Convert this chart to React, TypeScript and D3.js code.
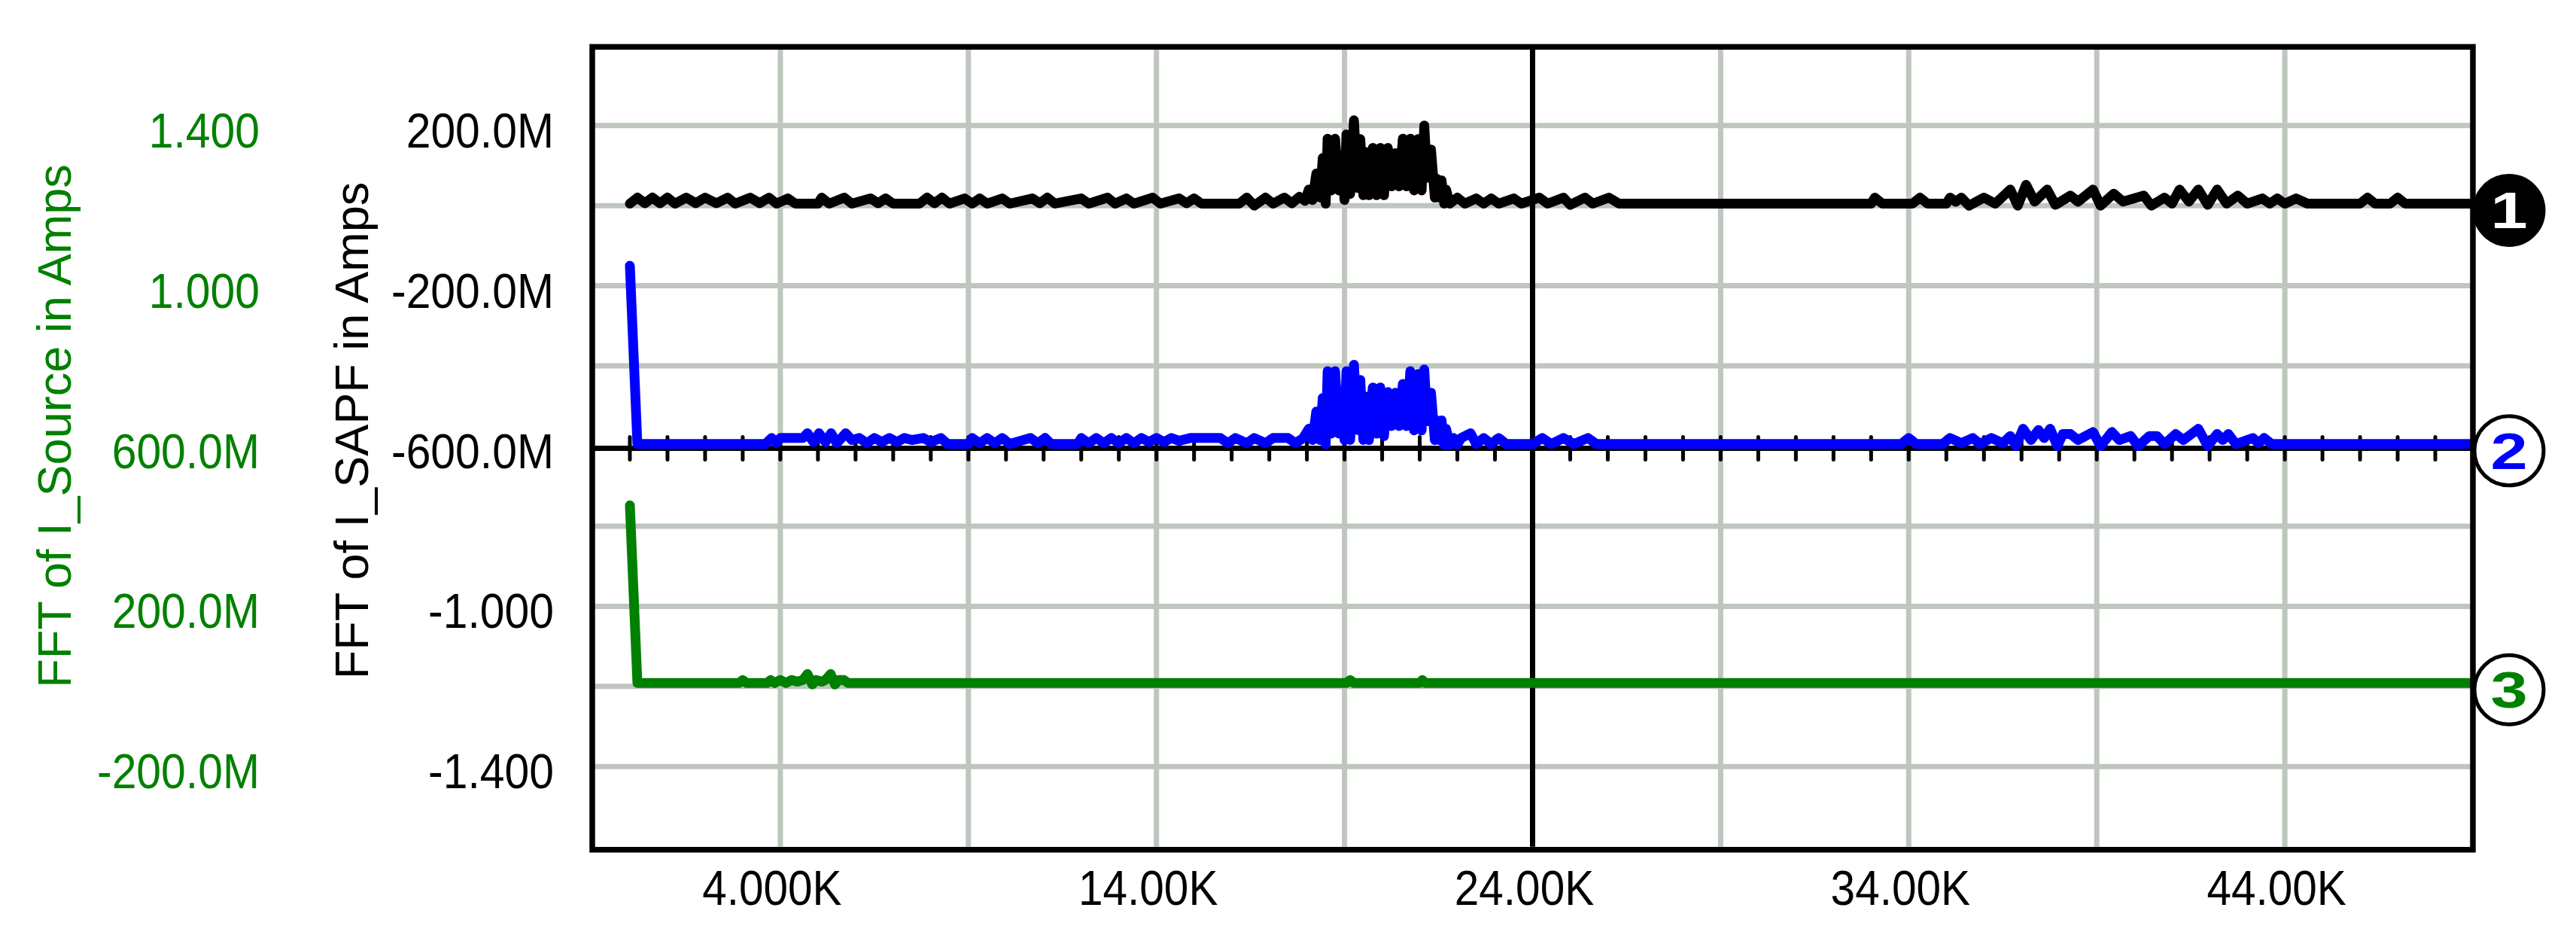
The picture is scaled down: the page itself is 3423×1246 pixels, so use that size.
import React from 'react';
import * as d3 from 'd3';

// frequency in kHz, magnitude in A
const sapfTrace: [number, number][] = [
  [0, 0.005], [0.2, 0.02], [0.4, 0.006], [0.6, 0.02], [0.8, 0.006], [1.0, 0.02], [1.2, 0.005], [1.5, 0.02], [1.75, 0.006],
  [2.0, 0.02], [2.3, 0.006], [2.6, 0.02], [2.8, 0.005], [3.2, 0.02], [3.45, 0.006], [3.7, 0.02], [3.9, 0.005], [4.2, 0.018],
  [4.4, 0.005], [5.0, 0.005], [5.1, 0.02], [5.3, 0.005], [5.7, 0.02], [5.9, 0.005], [6.4, 0.018], [6.6, 0.006], [6.8, 0.018],
  [7.0, 0.005], [7.7, 0.005], [7.9, 0.02], [8.1, 0.006], [8.3, 0.02], [8.5, 0.005], [8.9, 0.018], [9.1, 0.005], [9.3, 0.018],
  [9.5, 0.005], [9.9, 0.018], [10.1, 0.005], [10.7, 0.018], [10.9, 0.006], [11.1, 0.02], [11.3, 0.005], [12.0, 0.018],
  [12.2, 0.005], [12.7, 0.02], [12.9, 0.005], [13.2, 0.018], [13.4, 0.005], [13.9, 0.02], [14.1, 0.005], [14.6, 0.018],
  [14.8, 0.006], [15.0, 0.018], [15.2, 0.005], [16.2, 0.005], [16.4, 0.02], [16.6, 0.0], [16.9, 0.02], [17.1, 0.005],
  [17.4, 0.02], [17.6, 0.006], [17.8, 0.022], [17.95, 0.012],
  [18.05, 0.04], [18.15, 0.014], [18.25, 0.08], [18.35, 0.02], [18.42, 0.119], [18.5, 0.005], [18.55, 0.167], [18.65, 0.038],
  [18.75, 0.167], [18.85, 0.038], [18.92, 0.125], [19.0, 0.014], [19.05, 0.178], [19.15, 0.029], [19.25, 0.213], [19.35, 0.044],
  [19.42, 0.166], [19.5, 0.026], [19.55, 0.134], [19.65, 0.026], [19.75, 0.144], [19.85, 0.026], [19.95, 0.144], [20.05, 0.026],
  [20.15, 0.144], [20.25, 0.048], [20.35, 0.131], [20.45, 0.048], [20.55, 0.167], [20.65, 0.048], [20.75, 0.167], [20.85, 0.038],
  [20.95, 0.166], [21.05, 0.038], [21.12, 0.2], [21.2, 0.07], [21.3, 0.14], [21.4, 0.02], [21.45, 0.067], [21.52, 0.02],
  [21.58, 0.063], [21.65, 0.005], [21.7, 0.04], [21.8, 0.005],
  [22.0, 0.02], [22.2, 0.005], [22.5, 0.018], [22.7, 0.005], [22.9, 0.018], [23.1, 0.005], [23.5, 0.018], [23.7, 0.005],
  [24.18, 0.02], [24.4, 0.005], [24.82, 0.02], [25.0, 0.002], [25.39, 0.02], [25.6, 0.005], [26.03, 0.02], [26.3, 0.005],
  [33.0, 0.005], [33.1, 0.02], [33.3, 0.005], [34.1, 0.005], [34.3, 0.02], [34.5, 0.005], [35.0, 0.005], [35.1, 0.02],
  [35.25, 0.01], [35.4, 0.02], [35.6, 0.0], [36.0, 0.02], [36.3, 0.005], [36.7, 0.04], [36.9, 0.0], [37.12, 0.052],
  [37.35, 0.01], [37.68, 0.04], [37.9, 0.002], [38.3, 0.025], [38.5, 0.01], [38.9, 0.04], [39.1, 0.0], [39.45, 0.03],
  [39.7, 0.01], [40.25, 0.025], [40.45, 0.0], [40.8, 0.02], [41.0, 0.005], [41.2, 0.04], [41.45, 0.01], [41.7, 0.04],
  [41.95, 0.002], [42.2, 0.04], [42.45, 0.005], [42.75, 0.025], [43.0, 0.005], [43.4, 0.018], [43.6, 0.005], [43.8, 0.018],
  [44.0, 0.005], [44.3, 0.018], [44.6, 0.005], [46.0, 0.005], [46.2, 0.02], [46.4, 0.005], [46.8, 0.005], [47.0, 0.02],
  [47.2, 0.005], [49.0, 0.005],
];

// trace 2 (blue) sits on its own hidden axis
const loadTrace: [number, number][] = [
  [0, 0.45], [0.2, 0.005], [3.6, 0.005], [3.77, 0.02], [3.9, 0.007], [4.0, 0.02], [4.6, 0.02], [4.72, 0.032], [4.88, 0.01],
  [5.03, 0.032], [5.2, 0.01], [5.35, 0.032], [5.5, 0.007], [5.74, 0.032], [5.9, 0.015], [6.1, 0.02], [6.3, 0.007], [6.5, 0.02],
  [6.7, 0.01], [6.9, 0.02], [7.1, 0.01], [7.3, 0.02], [7.5, 0.015], [7.8, 0.02], [8.0, 0.01], [8.27, 0.02], [8.45, 0.005],
  [9.0, 0.005], [9.1, 0.02], [9.3, 0.007], [9.5, 0.02], [9.7, 0.007], [9.9, 0.02], [10.1, 0.005], [10.65, 0.02], [10.85, 0.007],
  [11.04, 0.02], [11.2, 0.005], [11.9, 0.005], [12.0, 0.02], [12.2, 0.007], [12.4, 0.02], [12.6, 0.007], [12.8, 0.02],
  [13.0, 0.007], [13.2, 0.02], [13.4, 0.007], [13.6, 0.02], [13.8, 0.01], [14.0, 0.02], [14.2, 0.01], [14.4, 0.02],
  [14.6, 0.013], [14.9, 0.02], [15.7, 0.02], [15.9, 0.007], [16.1, 0.02], [16.4, 0.007], [16.6, 0.02], [16.9, 0.007],
  [17.1, 0.02], [17.5, 0.02], [17.7, 0.007], [17.9, 0.02],
  [18.05, 0.043], [18.15, 0.015], [18.25, 0.086], [18.35, 0.015], [18.42, 0.12], [18.5, 0.004], [18.55, 0.187], [18.65, 0.031],
  [18.75, 0.187], [18.85, 0.031], [18.92, 0.111], [19.0, 0.015], [19.05, 0.187], [19.15, 0.015], [19.25, 0.203], [19.35, 0.04],
  [19.42, 0.165], [19.5, 0.015], [19.55, 0.124], [19.65, 0.015], [19.75, 0.146], [19.85, 0.031], [19.95, 0.146], [20.05, 0.025],
  [20.15, 0.135], [20.25, 0.05], [20.35, 0.133], [20.45, 0.05], [20.55, 0.155], [20.65, 0.05], [20.75, 0.187], [20.85, 0.039],
  [20.95, 0.18], [21.05, 0.039], [21.12, 0.191], [21.2, 0.062], [21.3, 0.133], [21.4, 0.015], [21.45, 0.064], [21.52, 0.015],
  [21.58, 0.064], [21.65, 0.003], [21.7, 0.043], [21.8, 0.003], [21.9, 0.02], [22.0, 0.004], [22.1, 0.02], [22.35, 0.032],
  [22.5, 0.005], [22.7, 0.02], [22.9, 0.005], [23.1, 0.02], [23.3, 0.005],
  [24.0, 0.005], [24.26, 0.02], [24.5, 0.005], [24.82, 0.02], [25.1, 0.005], [25.47, 0.02], [25.7, 0.005], [33.8, 0.005],
  [34.0, 0.02], [34.2, 0.005], [34.9, 0.005], [35.1, 0.02], [35.4, 0.007], [35.7, 0.02], [35.9, 0.005], [36.2, 0.02],
  [36.5, 0.007], [36.7, 0.025], [36.85, 0.0], [37.04, 0.043], [37.25, 0.015], [37.45, 0.04], [37.6, 0.02], [37.76, 0.043],
  [37.95, 0.0], [38.1, 0.03], [38.3, 0.03], [38.5, 0.015], [38.9, 0.035], [39.1, 0.0], [39.4, 0.035], [39.6, 0.015],
  [39.9, 0.025], [40.1, 0.0], [40.4, 0.025], [40.6, 0.025], [40.8, 0.005], [41.1, 0.03], [41.3, 0.015], [41.7, 0.043],
  [41.95, 0.0], [42.2, 0.03], [42.35, 0.015], [42.5, 0.03], [42.7, 0.005], [43.15, 0.02], [43.3, 0.007], [43.45, 0.02],
  [43.65, 0.005], [49.0, 0.005],
];

const sourceTrace: [number, number][] = [
  [0, 0.452], [0.2, 0.0085], [2.9, 0.0085], [3.0, 0.016], [3.1, 0.0085], [3.65, 0.0085], [3.74, 0.016], [3.85, 0.0085],
  [4.0, 0.016], [4.15, 0.0085], [4.3, 0.016], [4.45, 0.012], [4.6, 0.016], [4.72, 0.031], [4.85, 0.005], [4.95, 0.016],
  [5.1, 0.012], [5.2, 0.016], [5.34, 0.031], [5.45, 0.005], [5.55, 0.016], [5.69, 0.016], [5.8, 0.0085], [19.05, 0.0085],
  [19.15, 0.016], [19.25, 0.0085], [21.0, 0.0085], [21.07, 0.016], [21.15, 0.0085], [49, 0.0085],
];

const xTicks = [4, 14, 24, 34, 44];
const xTickLabels = ['4.000K', '14.00K', '24.00K', '34.00K', '44.00K'];
const sapfTicks = [0.2, -0.2, -0.6, -1.0, -1.4];
const sapfTickLabels = ['200.0M', '-200.0M', '-600.0M', '-1.000', '-1.400'];
const sourceTicks = [1.4, 1.0, 0.6, 0.2, -0.2];
const sourceTickLabels = ['1.400', '1.000', '600.0M', '200.0M', '-200.0M'];

const W = 3423;
const H = 1246;
const left = 787, right = 3286, top = 60.25, bottom = 1124.75;
const GRID = '#bec6be';
const FONT = 'Liberation Sans, Arial, Helvetica, sans-serif';

const x = d3.scaleLinear().domain([-1, 49]).range([left, right]);
const ySapf = d3.scaleLinear().domain([-1.6, 0.4]).range([bottom, top]);
const ySource = d3.scaleLinear().domain([-0.4, 1.6]).range([bottom, top]);
const yLoad = d3.scaleLinear().domain([-1, 1]).range([bottom, top]);

const traces = [
  { id: '1', data: sapfTrace, y: ySapf, color: '#000000' },
  { id: '2', data: loadTrace, y: yLoad, color: '#0000ff' },
  { id: '3', data: sourceTrace, y: ySource, color: '#008000' },
];

export default function App() {
  const vGrid = d3.range(-1, 49, 5).filter((k) => k > -1 && k !== 24);
  const hGrid = d3.range(0.2, -1.41, -0.2).filter((v) => Math.abs(v + 0.6) > 1e-6);
  const axisY = yLoad(0) + 3;
  const minorTicks = d3.range(0, 49, 1);

  return (
    <svg width={W} height={H} style={{ position: 'absolute', left: 0, top: 0, background: '#fff' }}>
      <rect x={0} y={0} width={W} height={H} fill="#fff" />
      {vGrid.map((k) => (
        <line key={'v' + k} x1={x(k)} x2={x(k)} y1={top} y2={bottom} stroke={GRID} strokeWidth={7} />
      ))}
      {hGrid.map((v) => (
        <line key={'h' + v.toFixed(1)} x1={left} x2={right} y1={ySapf(v)} y2={ySapf(v)} stroke={GRID} strokeWidth={7} />
      ))}
      <line x1={x(24)} x2={x(24)} y1={top} y2={bottom} stroke="#000" strokeWidth={7} />
      {minorTicks.map((k) => (
        <line key={'t' + k} x1={x(k)} x2={x(k)} y1={axisY - 15} y2={axisY + 15} stroke="#000" strokeWidth={5} strokeLinecap="round" />
      ))}
      <line x1={left} x2={right} y1={axisY} y2={axisY} stroke="#000" strokeWidth={7} />

      {traces.map((t) => {
        const line = d3.line<[number, number]>().x((d) => x(d[0])).y((d) => t.y(d[1]));
        return (
          <path key={t.id} d={line(t.data) || ''} fill="none" stroke={t.color} strokeWidth={13}
            strokeLinejoin="round" strokeLinecap="round" />
        );
      })}

      <rect x={left} y={top + 2} width={right - left} height={bottom - top + 2} fill="none" stroke="#000" strokeWidth={7.5} />

      {traces.map((t, i) => {
        const last = t.data[t.data.length - 1];
        const cy = t.y(last[1]) + 9;
        const cx = right + 48;
        const filled = i === 0;
        return (
          <g key={'m' + t.id}>
            <circle cx={cx} cy={cy} r={46} fill={filled ? '#000' : '#fff'} stroke="#000" strokeWidth={5} />
            <text transform={`translate(${cx},${cy + 24}) scale(1.3,1)`} textAnchor="middle" fontFamily={FONT}
              fontWeight="bold" fontSize={68} fill={filled ? '#fff' : t.color}>{t.id}</text>
          </g>
        );
      })}

      {sapfTicks.map((v, i) => (
        <text key={'sl' + i} transform={`translate(736,${ySapf(v) + 29}) scale(0.92,1)`} textAnchor="end"
          fontFamily={FONT} fontSize={64} fill="#000">{sapfTickLabels[i]}</text>
      ))}
      {sourceTicks.map((v, i) => (
        <text key={'gl' + i} transform={`translate(345,${ySource(v) + 29}) scale(0.92,1)`} textAnchor="end"
          fontFamily={FONT} fontSize={64} fill="#008000">{sourceTickLabels[i]}</text>
      ))}
      {xTicks.map((k, i) => (
        <text key={'xl' + i} transform={`translate(${x(k) - 11},1202) scale(0.9,1)`} textAnchor="middle"
          fontFamily={FONT} fontSize={65} fill="#000">{xTickLabels[i]}</text>
      ))}

      <text transform="translate(94,566) rotate(-90)" textAnchor="middle" fontFamily={FONT} fontSize={63} fill="#008000">
        FFT of I_Source in Amps
      </text>
      <text transform="translate(489,572) rotate(-90)" textAnchor="middle" fontFamily={FONT} fontSize={63} fill="#000">
        FFT of I_SAPF in Amps
      </text>
    </svg>
  );
}
